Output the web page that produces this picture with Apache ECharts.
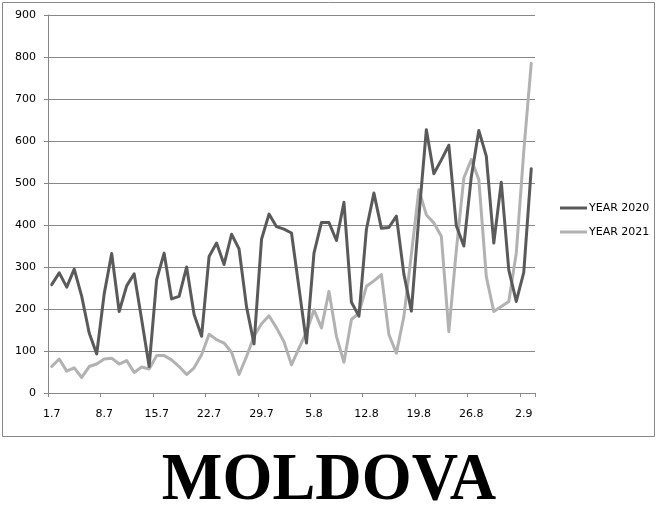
<!DOCTYPE html>
<html>
<head>
<meta charset="utf-8">
<script src="https://cdn.jsdelivr.net/npm/echarts@6/dist/echarts.min.js"></script>
<style>
html,body{margin:0;padding:0;background:#fff;}
#chart{width:658px;height:506px;}
</style>
</head>
<body>
<div id="chart"></div>
<script>
const categories = [
  "1.7","2.7","3.7","4.7","5.7","6.7","7.7","8.7","9.7","10.7",
  "11.7","12.7","13.7","14.7","15.7","16.7","17.7","18.7","19.7","20.7",
  "21.7","22.7","23.7","24.7","25.7","26.7","27.7","28.7","29.7","30.7",
  "31.7","1.8","2.8","3.8","4.8","5.8","6.8","7.8","8.8","9.8",
  "10.8","11.8","12.8","13.8","14.8","15.8","16.8","17.8","18.8","19.8",
  "20.8","21.8","22.8","23.8","24.8","25.8","26.8","27.8","28.8","29.8",
  "30.8","31.8","1.9","2.9","3.9"
];
const year2020 = [
  258, 286, 252, 295, 230, 143, 93, 236, 332, 194,
  255, 284, 175, 63, 270, 333, 224, 230, 300, 187,
  135, 325, 357, 306, 378, 343, 205, 117, 366, 426,
  396, 390, 381, 250, 119, 333, 406, 406, 363, 454,
  216, 183, 390, 476, 392, 394, 421, 283, 195, 420,
  627, 522, 555, 590, 398, 350, 515, 625, 564, 357,
  502, 293, 218, 287, 534
];
const year2021 = [
  63, 81, 52, 60, 37, 63, 69, 81, 83, 69,
  77, 49, 62, 57, 89, 89, 79, 63, 44, 60,
  91, 140, 127, 119, 97, 44, 87, 135, 165, 184,
  155, 122, 67, 107, 145, 198, 155, 242, 135, 73,
  175, 190, 254, 267, 282, 139, 95, 182, 330, 484,
  424, 405, 373, 146, 340, 512, 556, 508, 277, 194,
  206, 218, 333, 575, 785
];
const seriesNames = ["YEAR 2020", "YEAR 2021"];
const yTicks = { min: 0, max: 900, interval: 100 };
const titleText = "MOLDOVA";

const gridColor = "#878787";
const lineIcon = 'path://M0,0 L27,0 L27,3 L0,3 Z';
const chart = echarts.init(document.getElementById('chart'), null, {renderer: 'canvas'});
chart.setOption({
  animation: false,
  backgroundColor: '#ffffff',
  grid: { left: 48, top: 15, right: 123, bottom: 113, containLabel: false },
  legend: {
    orient: 'vertical',
    left: 555,
    top: 196,
    itemWidth: 27,
    itemHeight: 3,
    itemGap: 10,
    data: [
      { name: seriesNames[0], icon: lineIcon },
      { name: seriesNames[1], icon: lineIcon }
    ],
    textStyle: { fontFamily: 'DejaVu Sans', fontSize: 11, color: '#000', lineHeight: 14, padding: [0, 0, 0, -3] }
  },
  xAxis: {
    type: 'category',
    data: categories,
    boundaryGap: true,
    axisLine: { show: true, lineStyle: { color: gridColor, width: 1 } },
    axisTick: { show: true, interval: 6, length: 4, lineStyle: { color: gridColor } },
    axisLabel: { interval: 6, margin: 16, fontFamily: 'DejaVu Sans', fontSize: 11, color: '#000' },
    splitLine: { show: false }
  },
  yAxis: {
    type: 'value',
    min: yTicks.min, max: yTicks.max, interval: yTicks.interval,
    axisLine: { show: true, lineStyle: { color: gridColor, width: 1 } },
    axisTick: { show: true, length: 4, lineStyle: { color: gridColor } },
    axisLabel: { margin: 12, fontFamily: 'DejaVu Sans', fontSize: 11, color: '#000' },
    splitLine: { show: true, lineStyle: { color: gridColor, width: 1 } }
  },
  series: [
    {
      name: seriesNames[0], type: 'line', data: year2020, symbol: 'none', smooth: false,
      itemStyle: { color: '#5a5a5a' },
      lineStyle: { color: '#5a5a5a', width: 3, cap: 'round', join: 'round' },
      z: 3
    },
    {
      name: seriesNames[1], type: 'line', data: year2021, symbol: 'none', smooth: false,
      itemStyle: { color: '#b2b2b2' },
      lineStyle: { color: '#b2b2b2', width: 3, cap: 'round', join: 'round' },
      z: 2
    }
  ],
  graphic: [
    {
      type: 'rect',
      shape: { x: 2.5, y: 2.5, width: 652, height: 434 },
      style: { fill: 'none', stroke: '#888888', lineWidth: 1 },
      silent: true, z: -1
    },
    {
      type: 'text',
      x: 329, y: 482,
      scaleX: 1.02,
      scaleY: 1.06,
      style: {
        text: titleText,
        font: 'bold 63px "Liberation Serif", "Times New Roman", serif',
        fill: '#000',
        textAlign: 'center',
        textVerticalAlign: 'middle'
      },
      silent: true
    }
  ]
});
</script>
</body>
</html>
